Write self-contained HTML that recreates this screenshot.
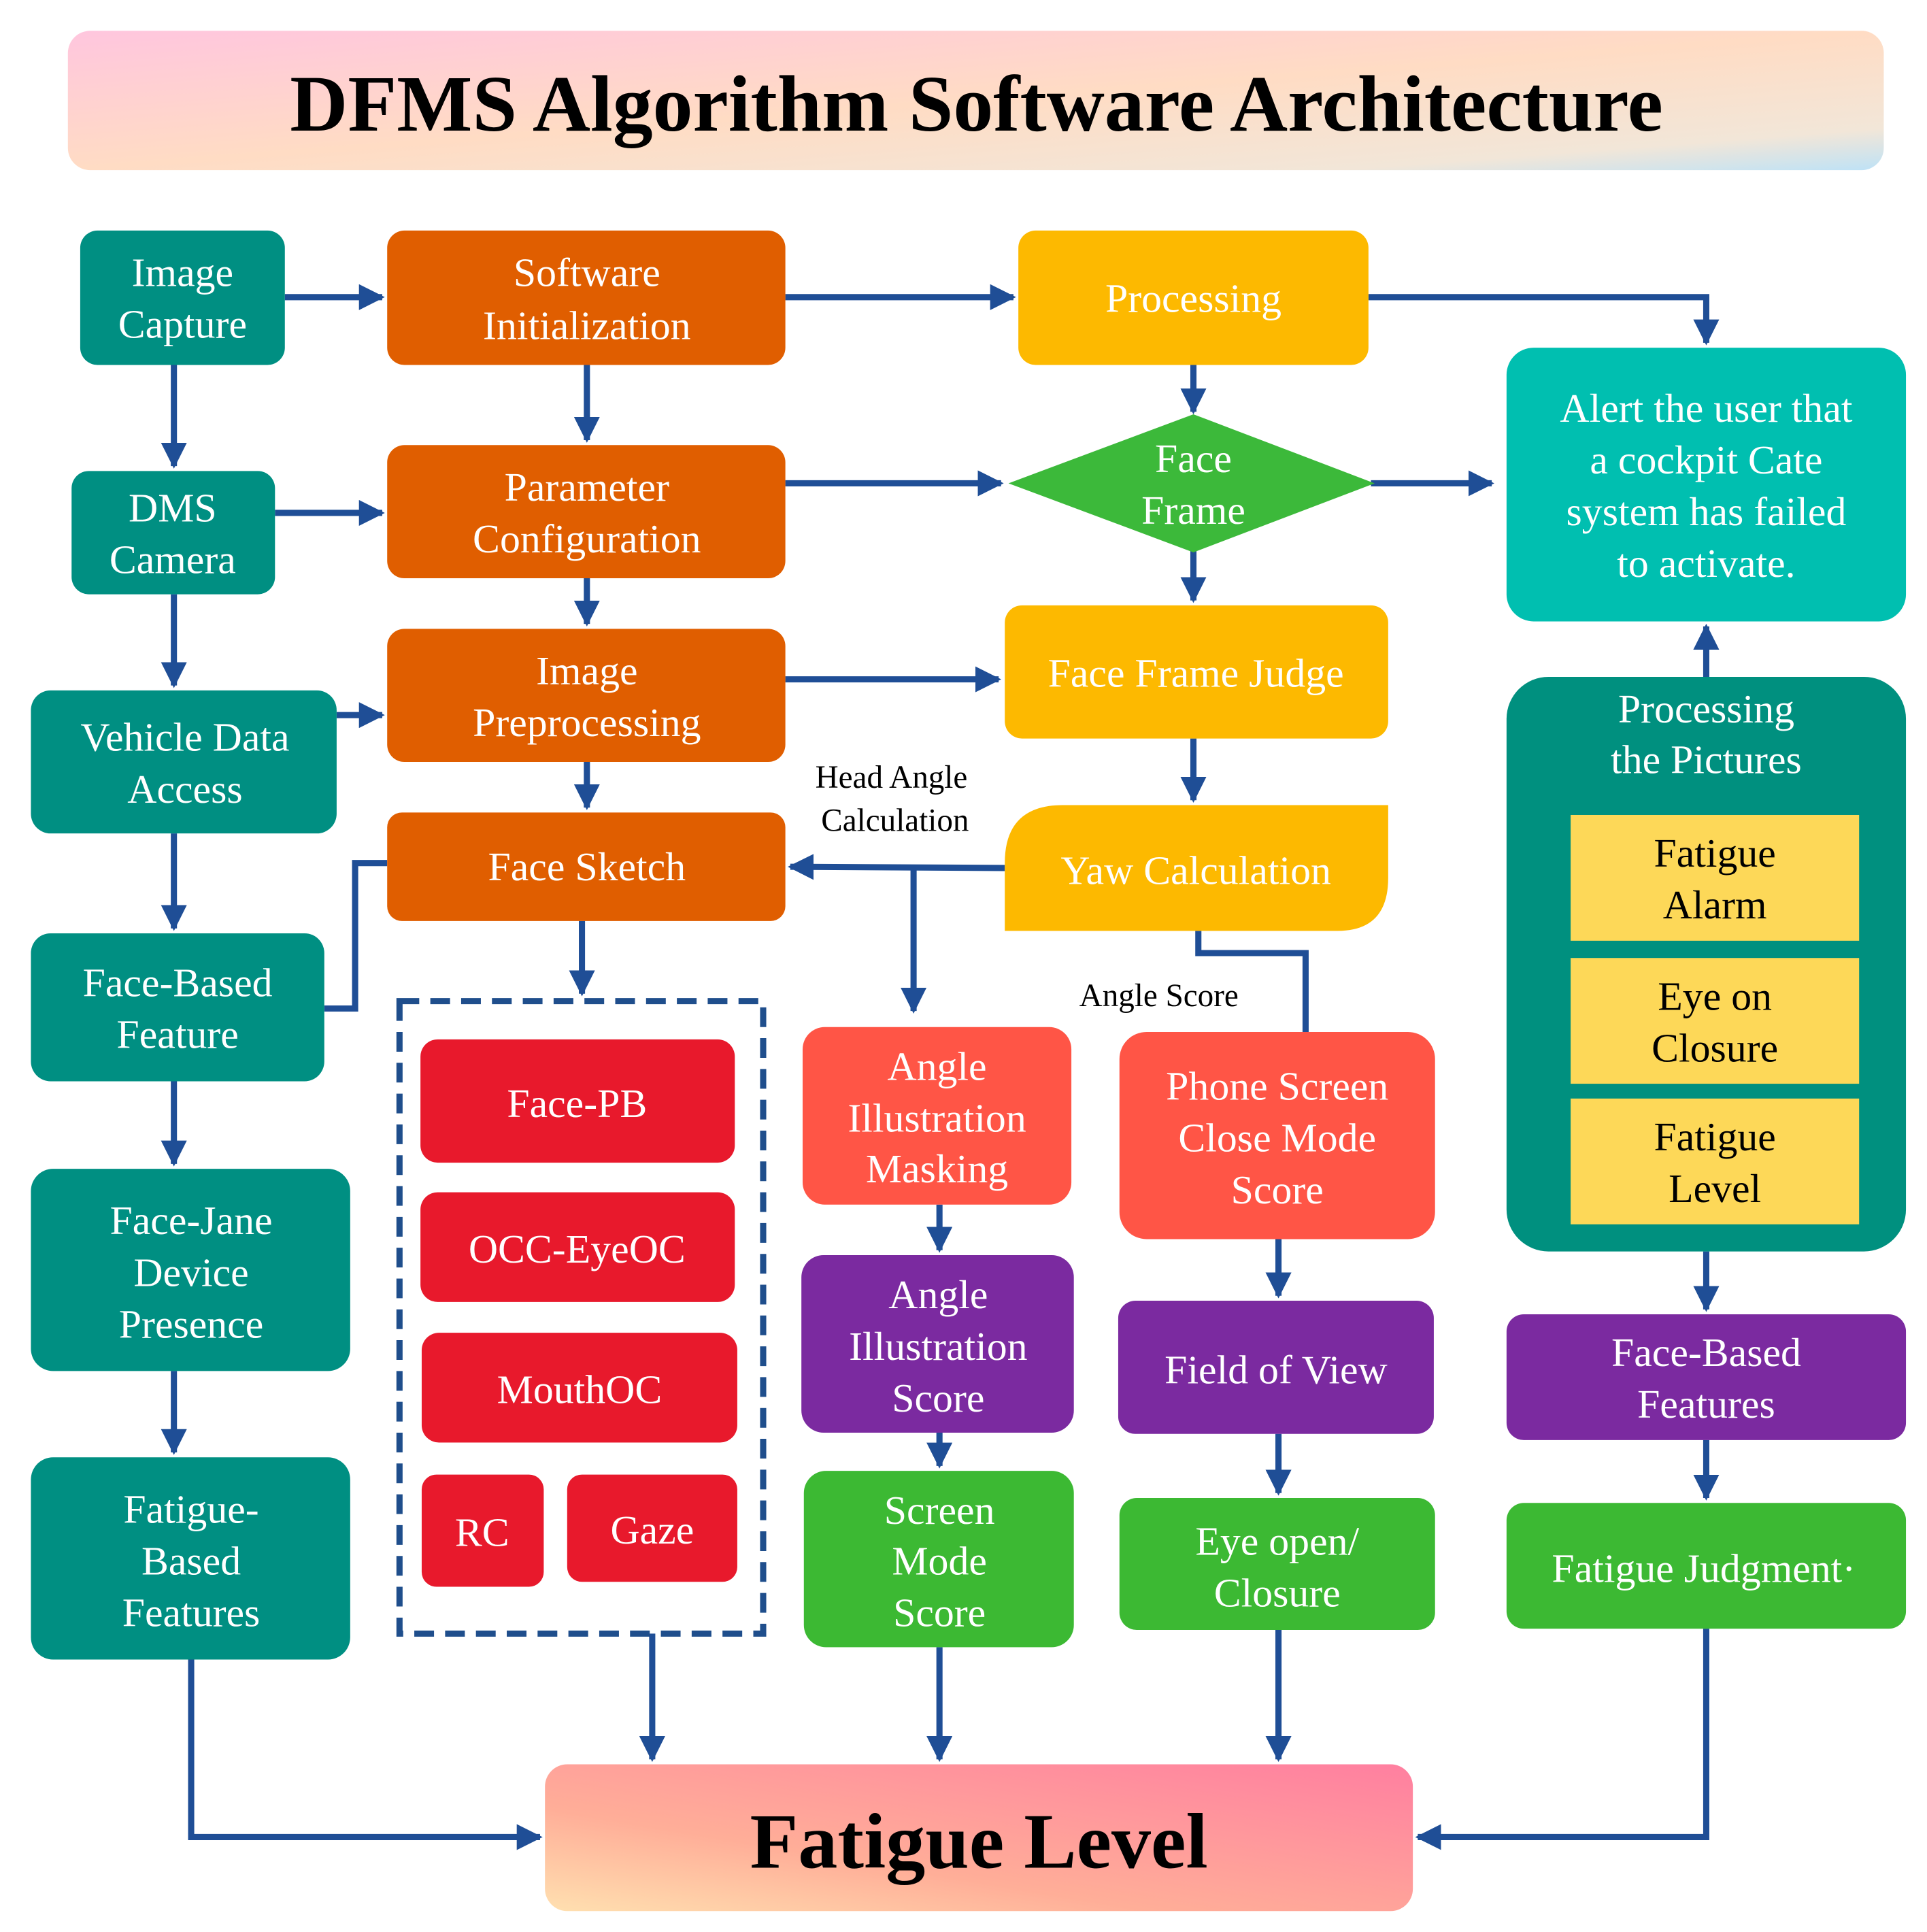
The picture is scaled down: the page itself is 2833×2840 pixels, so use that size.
<!DOCTYPE html>
<html><head><meta charset="utf-8"><style>
html,body{margin:0;padding:0;background:#fff;}
svg{display:block;}
text{font-family:"Liberation Serif",serif;}
.w{fill:#fff;font-size:33px;text-anchor:middle;}
.k{fill:#000;font-size:26px;text-anchor:middle;}
.a{stroke:#1F4E96;stroke-width:5;fill:none;}
</style></head><body>
<svg width="2833" height="2840" viewBox="0 0 1563 1567" xmlns="http://www.w3.org/2000/svg">
<defs>
<linearGradient id="tg" x1="0" y1="0" x2="1" y2="1">
<stop offset="0" stop-color="#FFC6DE"/><stop offset="0.5" stop-color="#FFDCC4"/><stop offset="0.85" stop-color="#F2E6D8"/><stop offset="1" stop-color="#BEE2F6"/></linearGradient>
<linearGradient id="fg" x1="0" y1="1" x2="1" y2="0">
<stop offset="0" stop-color="#FFE0B0"/><stop offset="0.35" stop-color="#FFAE98"/><stop offset="1" stop-color="#FF7FA0"/></linearGradient>
<marker id="m" viewBox="0 0 10 10" refX="9" refY="5" markerWidth="4.2" markerHeight="4.2" orient="auto" markerUnits="strokeWidth"><path d="M0,0 L10,5 L0,10 z" fill="#1F4E96"/></marker>
</defs>
<rect x="55" y="25" width="1473" height="113" rx="18" fill="url(#tg)"/>
<text x="792" y="106" text-anchor="middle" font-size="65" font-weight="bold" fill="#000">DFMS Algorithm Software Architecture</text>

<g class="a">
<path d="M231,241 H310" marker-end="url(#m)"/>
<path d="M637,241 H822" marker-end="url(#m)"/>
<path d="M1110,241 H1384 V278" marker-end="url(#m)"/>
<path d="M141,296 V378" marker-end="url(#m)"/>
<path d="M223,416 H310" marker-end="url(#m)"/>
<path d="M476,296 V357" marker-end="url(#m)"/>
<path d="M637,392 H812" marker-end="url(#m)"/>
<path d="M1112,392 H1210" marker-end="url(#m)"/>
<path d="M968,296 V334" marker-end="url(#m)"/>
<path d="M968,446 V487" marker-end="url(#m)"/>
<path d="M141,482 V556" marker-end="url(#m)"/>
<path d="M273,580 H310" marker-end="url(#m)"/>
<path d="M476,469 V506" marker-end="url(#m)"/>
<path d="M637,551 H810" marker-end="url(#m)"/>
<path d="M476,618 V655" marker-end="url(#m)"/>
<path d="M968,599 V649" marker-end="url(#m)"/>
<path d="M815,704 L641,703" marker-end="url(#m)"/>
<path d="M741,704 V820" marker-end="url(#m)"/>
<path d="M972,755 V773 H1059 V837"/>
<path d="M314,700 H288 V818 H263"/>
<path d="M472,747 V806" marker-end="url(#m)"/>
<path d="M141,676 V753" marker-end="url(#m)"/>
<path d="M141,877 V944" marker-end="url(#m)"/>
<path d="M141,1112 V1178" marker-end="url(#m)"/>
<path d="M155,1346 V1490 H438" marker-end="url(#m)"/>
<path d="M529,1325 V1427" marker-end="url(#m)"/>
<path d="M762,1336 V1427" marker-end="url(#m)"/>
<path d="M1037,1322 V1427" marker-end="url(#m)"/>
<path d="M1384,1321 V1490 H1150" marker-end="url(#m)"/>
<path d="M762,977 V1014" marker-end="url(#m)"/>
<path d="M762,1162 V1189" marker-end="url(#m)"/>
<path d="M1037,1005 V1051" marker-end="url(#m)"/>
<path d="M1037,1163 V1211" marker-end="url(#m)"/>
<path d="M1384,549 V508" marker-end="url(#m)"/>
<path d="M1384,1015 V1062" marker-end="url(#m)"/>
<path d="M1384,1168 V1215" marker-end="url(#m)"/>
</g>

<g fill="#008F82">
<rect x="65" y="187" width="166" height="109" rx="14"/>
<rect x="58" y="382" width="165" height="100" rx="14"/>
<rect x="25" y="560" width="248" height="116" rx="16"/>
<rect x="25" y="757" width="238" height="120" rx="16"/>
<rect x="25" y="948" width="259" height="164" rx="18"/>
<rect x="25" y="1182" width="259" height="164" rx="18"/>
</g>
<text class="w"><tspan x="148" y="232">Image</tspan><tspan x="148" y="274">Capture</tspan></text>
<text class="w"><tspan x="140" y="423">DMS</tspan><tspan x="140" y="465">Camera</tspan></text>
<text class="w"><tspan x="150" y="609">Vehicle Data</tspan><tspan x="150" y="651">Access</tspan></text>
<text class="w"><tspan x="144" y="808">Face-Based</tspan><tspan x="144" y="850">Feature</tspan></text>
<text class="w"><tspan x="155" y="1001">Face-Jane</tspan><tspan x="155" y="1043">Device</tspan><tspan x="155" y="1085">Presence</tspan></text>
<text class="w"><tspan x="155" y="1235">Fatigue-</tspan><tspan x="155" y="1277">Based</tspan><tspan x="155" y="1319">Features</tspan></text>

<g fill="#E05E00">
<rect x="314" y="187" width="323" height="109" rx="14"/>
<rect x="314" y="361" width="323" height="108" rx="14"/>
<rect x="314" y="510" width="323" height="108" rx="14"/>
<rect x="314" y="659" width="323" height="88" rx="12"/>
</g>
<text class="w"><tspan x="476" y="232">Software</tspan><tspan x="476" y="275">Initialization</tspan></text>
<text class="w"><tspan x="476" y="406">Parameter</tspan><tspan x="476" y="448">Configuration</tspan></text>
<text class="w"><tspan x="476" y="555">Image</tspan><tspan x="476" y="597">Preprocessing</tspan></text>
<text class="w" x="476" y="714">Face Sketch</text>

<g fill="#FDB900">
<rect x="826" y="187" width="284" height="109" rx="14"/>
<rect x="815" y="491" width="311" height="108" rx="14"/>
<path d="M815,755 V700 Q815,653 862,653 H1126 V712 Q1126,755 1085,755 Z"/>
</g>
<text class="w" x="968" y="253">Processing</text>
<text class="w" x="970" y="557">Face Frame Judge</text>
<text class="w" x="970" y="717">Yaw Calculation</text>
<polygon points="968,336 1115,392 968,448 818,392" fill="#3CB93A"/>
<text class="w"><tspan x="968" y="383">Face</tspan><tspan x="968" y="425">Frame</tspan></text>

<text class="k"><tspan x="723" y="639">Head Angle</tspan><tspan x="726" y="674">Calculation</tspan></text>
<text class="k" x="940" y="816">Angle Score</text>

<rect x="1222" y="282" width="324" height="222" rx="22" fill="#00BFB0"/>
<text class="w"><tspan x="1384" y="342">Alert the user that</tspan><tspan x="1384" y="384">a cockpit Cate</tspan><tspan x="1384" y="426">system has failed</tspan><tspan x="1384" y="468">to activate.</tspan></text>
<rect x="1222" y="549" width="324" height="466" rx="34" fill="#00907F"/>
<text class="w"><tspan x="1384" y="586">Processing</tspan><tspan x="1384" y="627">the Pictures</tspan></text>
<g fill="#FDD858">
<rect x="1274" y="661" width="234" height="102"/>
<rect x="1274" y="777" width="234" height="102"/>
<rect x="1274" y="891" width="234" height="102"/>
</g>
<g fill="#000" font-size="33" text-anchor="middle">
<text><tspan x="1391" y="703">Fatigue</tspan><tspan x="1391" y="745">Alarm</tspan></text>
<text><tspan x="1391" y="819">Eye on</tspan><tspan x="1391" y="861">Closure</tspan></text>
<text><tspan x="1391" y="933">Fatigue</tspan><tspan x="1391" y="975">Level</tspan></text>
</g>
<rect x="1222" y="1066" width="324" height="102" rx="14" fill="#7B2AA0"/>
<text class="w"><tspan x="1384" y="1108">Face-Based</tspan><tspan x="1384" y="1150">Features</tspan></text>
<rect x="1222" y="1219" width="324" height="102" rx="14" fill="#3CB933"/>
<text class="w" x="1382" y="1283">Fatigue Judgment·</text>

<rect x="324" y="812" width="295" height="513" fill="none" stroke="#1F4E8C" stroke-width="5" stroke-dasharray="16,9"/>
<g fill="#E8192C">
<rect x="341" y="843" width="255" height="100" rx="14"/>
<rect x="341" y="967" width="255" height="89" rx="14"/>
<rect x="342" y="1081" width="256" height="89" rx="14"/>
<rect x="342" y="1196" width="99" height="91" rx="12"/>
<rect x="460" y="1196" width="138" height="87" rx="12"/>
</g>
<text class="w" x="468" y="906">Face-PB</text>
<text class="w" x="468" y="1024">OCC-EyeOC</text>
<text class="w" x="470" y="1138">MouthOC</text>
<text class="w" x="391" y="1254">RC</text>
<text class="w" x="529" y="1252">Gaze</text>

<rect x="651" y="833" width="218" height="144" rx="18" fill="#FF5546"/>
<text class="w"><tspan x="760" y="876">Angle</tspan><tspan x="760" y="918">Illustration</tspan><tspan x="760" y="959">Masking</tspan></text>
<rect x="650" y="1018" width="221" height="144" rx="18" fill="#7B2AA0"/>
<text class="w"><tspan x="761" y="1061">Angle</tspan><tspan x="761" y="1103">Illustration</tspan><tspan x="761" y="1145">Score</tspan></text>
<rect x="652" y="1193" width="219" height="143" rx="18" fill="#3CB933"/>
<text class="w"><tspan x="762" y="1236">Screen</tspan><tspan x="762" y="1277">Mode</tspan><tspan x="762" y="1319">Score</tspan></text>
<rect x="908" y="837" width="256" height="168" rx="22" fill="#FF5546"/>
<text class="w"><tspan x="1036" y="892">Phone Screen</tspan><tspan x="1036" y="934">Close Mode</tspan><tspan x="1036" y="976">Score</tspan></text>
<rect x="907" y="1055" width="256" height="108" rx="14" fill="#7B2AA0"/>
<text class="w" x="1035" y="1122">Field of View</text>
<rect x="908" y="1215" width="256" height="107" rx="14" fill="#3CB933"/>
<text class="w"><tspan x="1036" y="1261">Eye open/</tspan><tspan x="1036" y="1303">Closure</tspan></text>

<rect x="442" y="1431" width="704" height="119" rx="18" fill="url(#fg)"/>
<text x="794" y="1515" text-anchor="middle" font-size="64" font-weight="bold" fill="#000">Fatigue Level</text>
</svg>
</body></html>
